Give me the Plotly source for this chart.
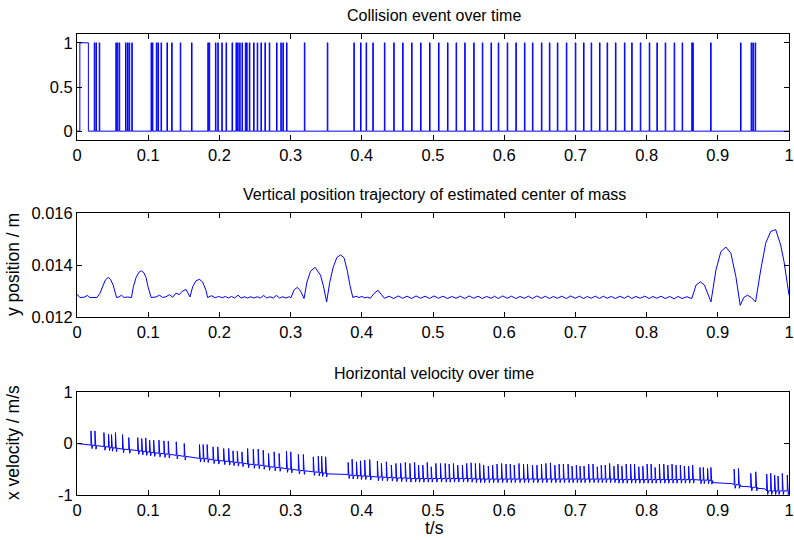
import plotly.graph_objects as go

# ---------------- data ----------------
# collision event times (signal = 1 at these instants, else 0)
contact_start = [0.004, 0.016]  # initial contact interval
collision_t = [0.0242, 0.0266, 0.0312, 0.0545, 0.0565, 0.0592, 0.0681, 0.0709, 0.0732, 0.0769,
               0.104, 0.1058, 0.1114, 0.1137, 0.118, 0.1263, 0.1329, 0.145, 0.1608, 0.1837,
               0.1856, 0.1944, 0.1977, 0.2033, 0.2093, 0.2177, 0.2233, 0.2256, 0.2284, 0.2317,
               0.2364, 0.2382, 0.242, 0.248, 0.2531, 0.2583, 0.2639, 0.27, 0.2802, 0.2862,
               0.2891, 0.2942, 0.3193, 0.3515, 0.3888, 0.3982, 0.406, 0.4154, 0.4317, 0.4448,
               0.4573, 0.4699, 0.4825, 0.4951, 0.5077, 0.5203, 0.5324, 0.5445, 0.5571, 0.5692,
               0.5814, 0.5916, 0.6042, 0.6163, 0.6284, 0.6396, 0.6522, 0.6634, 0.6746, 0.6872,
               0.6998, 0.7114, 0.7221, 0.7338, 0.7445, 0.7562, 0.7688, 0.779, 0.7911, 0.8037,
               0.8144, 0.8261, 0.8387, 0.8499, 0.8634, 0.8648, 0.8899, 0.9319, 0.9468, 0.9492,
               0.9524]

# vertical position of centre of mass
pos_t = [0.0, 0.004, 0.010, 0.0145, 0.018, 0.024, 0.028, 0.032, 0.036, 0.040, 0.0438, 0.047,
         0.0508, 0.0555, 0.059, 0.0625, 0.066, 0.071, 0.0765, 0.079, 0.083, 0.087, 0.0904, 0.094,
         0.097, 0.0998, 0.1041, 0.1111, 0.1158, 0.1204, 0.1251, 0.1298, 0.1344, 0.1391, 0.1437,
         0.1475, 0.1531, 0.1587, 0.1624, 0.1671, 0.1718, 0.1764, 0.1811, 0.1834,
         0.189, 0.194, 0.199, 0.204, 0.2085, 0.2125, 0.217, 0.2215, 0.226, 0.2305, 0.235, 0.2395,
         0.244, 0.2485, 0.253, 0.2575, 0.262, 0.2665, 0.271, 0.2755, 0.280, 0.2845, 0.289, 0.2935,
         0.298, 0.3005, 0.305, 0.3096, 0.314, 0.3189, 0.323, 0.328, 0.3343, 0.339, 0.342, 0.346,
         0.3506, 0.355, 0.360, 0.365, 0.3702, 0.375, 0.3795, 0.3835, 0.3874, 0.392, 0.396, 0.400,
         0.404, 0.408, 0.412, 0.417, 0.4228, 0.427,
         0.4317, 0.4383, 0.4448, 0.4511, 0.4573, 0.4636, 0.4699, 0.4762, 0.4825, 0.4888, 0.4951,
         0.5014, 0.5077, 0.514, 0.5203, 0.5264, 0.5324, 0.5385, 0.5445, 0.5508, 0.5571, 0.5632,
         0.5692, 0.5753, 0.5814, 0.5865, 0.5916, 0.5979, 0.6042, 0.6103, 0.6163, 0.6224, 0.6284,
         0.634, 0.6396, 0.6459, 0.6522, 0.6578, 0.6634, 0.669, 0.6746, 0.6809, 0.6872, 0.6935,
         0.6998, 0.7056, 0.7114, 0.7168, 0.7221, 0.728, 0.7338, 0.7392, 0.7445, 0.7504, 0.7562,
         0.7625, 0.7688, 0.7739, 0.779, 0.785, 0.7911, 0.7974, 0.8037, 0.809, 0.8144, 0.8203,
         0.8261, 0.8324, 0.8387, 0.8443, 0.8499, 0.8567, 0.8634,
         0.8695, 0.8756, 0.8812, 0.8904, 0.8974, 0.9044, 0.9114, 0.9184, 0.9254, 0.9315, 0.9365,
         0.9417, 0.947, 0.953, 0.9603, 0.9673, 0.9743, 0.9813, 0.9883, 0.993, 0.9976, 1.0]
pos_v = [0.01288, 0.01275, 0.01276, 0.01283, 0.01275, 0.01276, 0.01275, 0.0129, 0.0132, 0.01343,
         0.01352, 0.01345, 0.01323, 0.01275, 0.01277, 0.01284, 0.01275, 0.01277, 0.01275, 0.01315,
         0.01352, 0.01372, 0.01378, 0.0137, 0.01352, 0.01316, 0.01275, 0.01277, 0.01284, 0.01275,
         0.01278, 0.01286, 0.01276, 0.01292, 0.01286, 0.01298, 0.01306, 0.01277, 0.01316, 0.01339,
         0.01345, 0.01335, 0.01303, 0.01275,
         0.01282, 0.01274, 0.01279, 0.01274, 0.01279, 0.01273, 0.01279, 0.01273, 0.01284, 0.01273,
         0.01278, 0.01273, 0.01278, 0.01273, 0.01278, 0.01273, 0.01283, 0.01273, 0.01278, 0.01273,
         0.01283, 0.01273, 0.01278, 0.01273, 0.01278, 0.01274, 0.01305, 0.01314, 0.013, 0.01271,
         0.01335, 0.01376, 0.01391, 0.01375, 0.01361, 0.0132, 0.01258, 0.01334, 0.01393, 0.01429,
         0.01439, 0.01428, 0.0138, 0.0132, 0.01275, 0.0128, 0.01275, 0.01279, 0.01274, 0.01276,
         0.01272, 0.0129, 0.01303, 0.01288,
         0.01272, 0.0128, 0.01271, 0.01281, 0.01272, 0.0128, 0.01271, 0.01281, 0.01272, 0.0128,
         0.01271, 0.01281, 0.01272, 0.0128, 0.01271, 0.01279, 0.01272, 0.0128, 0.01271, 0.01281,
         0.01272, 0.0128, 0.01271, 0.01279, 0.01272, 0.0128, 0.01271, 0.01281, 0.01272, 0.0128,
         0.01271, 0.01279, 0.01272, 0.0128, 0.01271, 0.01281, 0.01272, 0.0128, 0.01271, 0.01279,
         0.01272, 0.0128, 0.01271, 0.01281, 0.01272, 0.0128, 0.01271, 0.01279, 0.01272, 0.0128,
         0.01271, 0.0128, 0.01272, 0.01279, 0.01271, 0.0128, 0.01272, 0.01281, 0.01271, 0.01279,
         0.01272, 0.0128, 0.01271, 0.01279, 0.01272, 0.0128, 0.01271, 0.01279, 0.0127, 0.01279,
         0.01271, 0.01278, 0.01271,
         0.01323, 0.01335, 0.01323, 0.01258, 0.01381, 0.01452, 0.01469, 0.01445, 0.01355, 0.01245,
         0.01275, 0.01284, 0.01275, 0.01258, 0.01381, 0.01484, 0.01529, 0.01536, 0.01477, 0.01413,
         0.01329, 0.01284]

# horizontal velocity: spike instants, baseline level and spike peak
spike_t = [0.0196, 0.0252, 0.0378, 0.0443, 0.0485, 0.054, 0.0639, 0.0727, 0.0853, 0.0909,
           0.0965, 0.102, 0.1077, 0.1151, 0.1221, 0.1282, 0.1394, 0.1506, 0.172, 0.1772,
           0.1828, 0.1911, 0.1977, 0.206, 0.213, 0.2191, 0.2252, 0.2317, 0.2396, 0.2476,
           0.2545, 0.2615, 0.269, 0.2769, 0.2839, 0.2942, 0.3002, 0.3109, 0.3179, 0.3319,
           0.3389, 0.3436, 0.3492,
           0.3808, 0.3864, 0.3925, 0.3981, 0.4041, 0.4111, 0.4219, 0.4275, 0.4345, 0.4415,
           0.4479, 0.4545, 0.4611, 0.4675, 0.4741, 0.4797, 0.4857, 0.4919, 0.4975, 0.504,
           0.5105, 0.5171, 0.5227, 0.5287, 0.5347, 0.5413, 0.5473, 0.5535, 0.5595, 0.5655,
           0.5711, 0.5777, 0.5837, 0.5899, 0.5963, 0.6025, 0.6085, 0.6141, 0.6207, 0.6271,
           0.6327, 0.6397, 0.6459, 0.6523, 0.6585, 0.6649, 0.6711, 0.6771, 0.6831,
           0.6897, 0.6953, 0.7013, 0.7065, 0.7121, 0.7186, 0.7247, 0.7307, 0.7363, 0.7419,
           0.748, 0.7541, 0.7597, 0.7653, 0.7713, 0.7775, 0.783, 0.789, 0.7947, 0.8007,
           0.8063, 0.8119, 0.818, 0.8241, 0.8297, 0.8357, 0.8413, 0.8474, 0.853, 0.859,
           0.8646, 0.8749, 0.8796, 0.8856, 0.8903, 0.923, 0.929, 0.9463, 0.9533, 0.9687,
           0.9743, 0.9798, 0.9846, 0.9906, 0.9976]
spike_top = [0.244, 0.244, 0.212, 0.18, 0.173, 0.212, 0.173, 0.115, 0.115, 0.096,
             0.109, 0.064, 0.064, 0.064, 0.051, 0.044, 0.032, 0.0, -0.02, -0.02,
             -0.02, -0.065, -0.065, -0.097, -0.097, -0.143, -0.149, -0.162, -0.097, -0.11,
             -0.11, -0.13, -0.194, -0.162, -0.194, -0.149, -0.162, -0.213, -0.213, -0.259,
             -0.246, -0.246, -0.259,
             -0.368, -0.304, -0.355, -0.336, -0.323, -0.31, -0.342, -0.387, -0.355, -0.42,
             -0.387, -0.387, -0.368, -0.387, -0.368, -0.42, -0.42, -0.368, -0.452, -0.387,
             -0.387, -0.387, -0.4, -0.387, -0.42, -0.42, -0.387, -0.375, -0.387, -0.387,
             -0.42, -0.439, -0.42, -0.4, -0.387, -0.4, -0.4, -0.42, -0.387, -0.4,
             -0.4, -0.42, -0.42, -0.4, -0.387, -0.375, -0.42, -0.4, -0.4,
             -0.4, -0.439, -0.42, -0.439, -0.439, -0.4, -0.4, -0.452, -0.42, -0.42,
             -0.387, -0.439, -0.4, -0.439, -0.4, -0.4, -0.4, -0.452, -0.439, -0.4,
             -0.4, -0.465, -0.4, -0.4, -0.42, -0.4, -0.42, -0.42, -0.439, -0.439,
             -0.42, -0.465, -0.465, -0.484, -0.465, -0.497, -0.484, -0.581, -0.549, -0.594,
             -0.581, -0.613, -0.632, -0.581, -0.613]
spike_base = [-0.03, -0.04, -0.06, -0.07, -0.08, -0.09, -0.11, -0.12, -0.14, -0.15,
              -0.16, -0.17, -0.18, -0.19, -0.2, -0.21, -0.23, -0.25, -0.29, -0.29,
              -0.3, -0.32, -0.33, -0.34, -0.35, -0.36, -0.37, -0.38, -0.4, -0.41,
              -0.42, -0.43, -0.45, -0.46, -0.47, -0.49, -0.5, -0.52, -0.53, -0.55,
              -0.56, -0.57, -0.58,
              -0.61, -0.62, -0.62, -0.63, -0.63, -0.64, -0.65, -0.65, -0.66, -0.66,
              -0.67, -0.67, -0.67, -0.68, -0.68, -0.68, -0.68, -0.68, -0.68, -0.68,
              -0.68, -0.68, -0.68, -0.68, -0.68, -0.68, -0.68, -0.68, -0.69, -0.69,
              -0.69, -0.69, -0.69, -0.69, -0.69, -0.69, -0.69, -0.69, -0.69, -0.69,
              -0.69, -0.69, -0.69, -0.69, -0.69, -0.69, -0.69, -0.69, -0.69,
              -0.69, -0.69, -0.69, -0.69, -0.69, -0.69, -0.69, -0.69, -0.69, -0.69,
              -0.69, -0.69, -0.7, -0.7, -0.7, -0.7, -0.7, -0.7, -0.7, -0.7,
              -0.7, -0.7, -0.7, -0.7, -0.7, -0.7, -0.7, -0.7, -0.7, -0.7,
              -0.7, -0.71, -0.71, -0.71, -0.72, -0.8, -0.8, -0.85, -0.85, -0.92,
              -0.92, -0.92, -0.92, -0.92, -0.92]
vel_dip = 0.07
# baseline-only points in the gaps between spikes
flat_t = [0.0, 0.352, 0.378, 0.893, 0.92, 0.932, 0.944, 0.956, 0.966, 1.0]
flat_v = [0.0, -0.59, -0.6, -0.76, -0.78, -0.83, -0.84, -0.87, -0.88, -0.93]

x_ticks = [0, 0.1, 0.2, 0.3, 0.4, 0.5, 0.6, 0.7, 0.8, 0.9, 1]
x_ticktext = ["0", "0.1", "0.2", "0.3", "0.4", "0.5", "0.6", "0.7", "0.8", "0.9", "1"]

# ---------------- build traces ----------------
BLUE = "#0000ff"
FONT = "Liberation Sans, Arial, Helvetica, sans-serif"

cx = [0.0, contact_start[0], contact_start[0], contact_start[1], contact_start[1]]
cy = [0, 0, 1, 1, 0]
for t in collision_t:
    cx += [t, t, t + 0.0008, t + 0.0008]
    cy += [0, 1, 1, 0]
cx.append(1.0)
cy.append(0)

pts = []
for t, v in zip(flat_t, flat_v):
    pts.append((t, [(t, v)]))
for t, b, top in zip(spike_t, spike_base, spike_top):
    pts.append((t, [(t, b), (t, top), (t + 0.0007, b - vel_dip), (t + 0.0014, b - vel_dip),
                    (t + 0.0025, b)]))
pts.sort(key=lambda p: p[0])
vx, vy = [], []
for _, seq in pts:
    for a, b in seq:
        vx.append(a)
        vy.append(b)

W_PLOT = 794 - 77 - 5
top_d = [355 / 461, 1.0]
mid_d = [178 / 461, 282 / 461]
bot_d = [0.0, 103 / 461]

fig = go.Figure()
fig.add_trace(go.Scatter(x=cx, y=cy, mode="lines", line=dict(color=BLUE, width=1),
                         xaxis="x", yaxis="y", showlegend=False))
fig.add_trace(go.Scatter(x=pos_t, y=pos_v, mode="lines", line=dict(color=BLUE, width=1),
                         xaxis="x2", yaxis="y2", showlegend=False))
fig.add_trace(go.Scatter(x=vx, y=vy, mode="lines", line=dict(color=BLUE, width=1),
                         xaxis="x3", yaxis="y3", showlegend=False))

TICK_SIZE = 16.5
ax_common = dict(showline=True, mirror="ticks", linecolor="black", linewidth=1,
                 ticks="inside", ticklen=5, tickcolor="black", tickwidth=1,
                 showgrid=False, zeroline=False, automargin=False,
                 tickfont=dict(family=FONT, size=TICK_SIZE, color="black"))
xcommon = dict(ax_common, range=[0, 1], tickvals=x_ticks, ticktext=x_ticktext, domain=[0, 1],
               ticklabeloverflow="allow")

fig.update_layout(
    width=794, height=540,
    margin=dict(l=77, r=5, t=34, b=45, autoexpand=False),
    paper_bgcolor="white", plot_bgcolor="white",
    font=dict(family=FONT, color="black"),
    xaxis=dict(xcommon, anchor="y"),
    xaxis2=dict(xcommon, anchor="y2"),
    xaxis3=dict(xcommon, anchor="y3"),
    yaxis=dict(ax_common, domain=top_d, range=[-0.1, 1.1], tickvals=[0, 0.5, 1],
               ticktext=["0", "0.5", "1"], anchor="x"),
    yaxis2=dict(ax_common, domain=mid_d, range=[0.012, 0.016],
                tickvals=[0.012, 0.014, 0.016], ticktext=["0.012", "0.014", "0.016"], anchor="x2"),
    yaxis3=dict(ax_common, domain=bot_d, range=[-1, 1], tickvals=[-1, 0, 1],
                ticktext=["-1", "0", "1"], anchor="x3"),
)

ann = dict(xref="paper", yref="paper", showarrow=False, font=dict(family=FONT, size=16, color="black"))
cx_title = (434 - 77) / W_PLOT
fig.add_annotation(ann, x=cx_title, y=(495 - 15) / 461, text="Collision event over time",
                   xanchor="center", yanchor="middle")
fig.add_annotation(ann, x=cx_title, y=(495 - 194) / 461,
                   text="Vertical position trajectory of estimated center of mass",
                   xanchor="center", yanchor="middle")
fig.add_annotation(ann, x=cx_title, y=(495 - 373) / 461, text="Horizontal velocity over time",
                   xanchor="center", yanchor="middle")
lab = dict(ann, font=dict(family=FONT, size=17.5, color="black"))
fig.add_annotation(lab, x=cx_title, y=(495 - 528) / 461, text="t/s", xanchor="center", yanchor="middle")
fig.add_annotation(lab, x=(13 - 77) / W_PLOT, y=(495 - 265) / 461, text="y position / m",
                   textangle=-90, xanchor="center", yanchor="middle")
fig.add_annotation(lab, x=(13 - 77) / W_PLOT, y=(495 - 443) / 461, text="x velocity / m/s",
                   textangle=-90, xanchor="center", yanchor="middle")

fig.write_html("out.html")
